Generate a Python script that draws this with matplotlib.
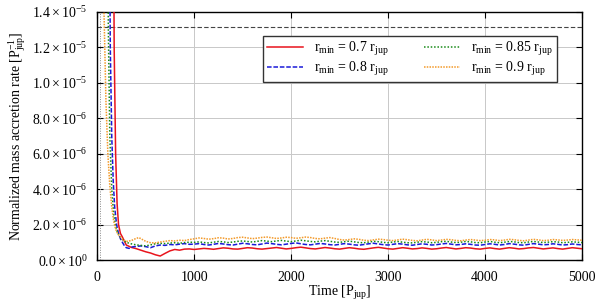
import matplotlib
matplotlib.use("Agg")
import matplotlib.pyplot as plt
from matplotlib.ticker import FixedLocator, FixedFormatter

plt.rcParams['font.family'] = ['Liberation Serif', 'DejaVu Serif']
plt.rcParams['mathtext.fontset'] = 'custom'
plt.rcParams['mathtext.rm'] = 'Liberation Serif'
plt.rcParams['mathtext.it'] = 'Liberation Serif:italic'

SCALE = 1e-6  # values below are in units of 1e-6 P_jup^-1

time_late = list(range(1000, 5001, 50))

# r_min = 0.7 r_jup
t_07_early = [0, 160, 175, 190, 205, 220, 240, 260, 300, 350, 400, 450, 500, 550, 600, 650, 700, 750, 800, 850, 900, 950]
v_07_early = [40, 30, 12, 6, 3.2, 2.0, 1.5, 1.3, 0.85, 0.72, 0.65, 0.56, 0.47, 0.40, 0.30, 0.23, 0.38, 0.52, 0.60, 0.56, 0.62, 0.63]
v_07_late = [0.60, 0.63, 0.66, 0.64, 0.61, 0.65, 0.69, 0.67, 0.63, 0.62,
             0.66, 0.70, 0.68, 0.64, 0.62, 0.65, 0.68, 0.71, 0.67, 0.63,
             0.66, 0.70, 0.73, 0.69, 0.65, 0.63, 0.67, 0.71, 0.68, 0.64,
             0.62, 0.66, 0.70, 0.67, 0.63, 0.61, 0.65, 0.69, 0.72, 0.68,
             0.64, 0.62, 0.66, 0.70, 0.67, 0.63, 0.65, 0.69, 0.66, 0.62,
             0.64, 0.68, 0.71, 0.67, 0.63, 0.66, 0.70, 0.68, 0.64, 0.62,
             0.66, 0.69, 0.65, 0.62, 0.66, 0.70, 0.67, 0.63, 0.65, 0.69,
             0.71, 0.67, 0.63, 0.66, 0.69, 0.65, 0.62, 0.66, 0.70, 0.67,
             0.64]

# r_min = 0.8 r_jup
t_08_early = [0, 120, 135, 150, 165, 180, 200, 220, 240, 260, 280, 300, 330, 360, 400, 450, 500, 550, 600, 650, 700, 750, 800, 850, 900, 950]
v_08_early = [40, 25, 12, 7, 4.5, 3.0, 2.0, 1.5, 1.2, 1.0, 0.82, 0.70, 0.66, 0.74, 0.77, 0.80, 0.76, 0.70, 0.80, 0.85, 0.83, 0.88, 0.86, 0.90, 0.93, 0.89]
v_08_late = [0.90, 0.93, 0.88, 0.85, 0.89, 0.94, 0.91, 0.87, 0.85, 0.90,
             0.95, 0.92, 0.88, 0.86, 0.91, 0.96, 0.93, 0.89, 0.86, 0.90,
             0.94, 0.97, 0.92, 0.88, 0.86, 0.90, 0.94, 0.91, 0.87, 0.85,
             0.89, 0.93, 0.90, 0.86, 0.84, 0.88, 0.92, 0.95, 0.91, 0.87,
             0.85, 0.89, 0.93, 0.90, 0.86, 0.84, 0.88, 0.92, 0.89, 0.85,
             0.87, 0.91, 0.94, 0.90, 0.86, 0.88, 0.92, 0.89, 0.85, 0.84,
             0.88, 0.92, 0.89, 0.85, 0.88, 0.93, 0.90, 0.86, 0.84, 0.89,
             0.93, 0.90, 0.86, 0.88, 0.92, 0.89, 0.85, 0.87, 0.91, 0.88,
             0.86]

# r_min = 0.85 r_jup
t_085_early = [0, 100, 115, 130, 150, 170, 190, 210, 230, 260, 300, 350, 400, 450, 500, 550, 600, 650, 700, 750, 800, 850, 900, 950]
v_085_early = [40, 25, 13, 7, 4.0, 2.6, 1.9, 1.55, 1.35, 1.15, 1.0, 0.92, 0.86, 0.83, 0.80, 0.86, 0.92, 0.95, 0.93, 0.96, 0.98, 0.95, 0.99, 1.01]
v_085_late = [1.00, 1.03, 0.99, 0.97, 1.01, 1.05, 1.03, 0.99, 1.02, 1.06,
              1.08, 1.05, 1.02, 1.06, 1.10, 1.07, 1.04, 1.08, 1.11, 1.07,
              1.04, 1.08, 1.12, 1.09, 1.05, 1.03, 1.07, 1.10, 1.06, 1.02,
              1.00, 1.04, 1.07, 1.03, 0.99, 0.98, 1.02, 1.06, 1.04, 1.00,
              0.98, 1.02, 1.05, 1.01, 0.98, 0.97, 1.01, 1.04, 1.02, 0.98,
              1.00, 1.04, 1.06, 1.02, 0.99, 1.01, 1.05, 1.03, 0.99, 0.98,
              1.02, 1.05, 1.01, 0.98, 1.01, 1.05, 1.03, 0.99, 0.98, 1.02,
              1.05, 1.02, 0.99, 1.01, 1.04, 1.02, 0.98, 1.00, 1.03, 1.01,
              0.99]

# r_min = 0.9 r_jup
t_09_early = [0, 50, 70, 90, 110, 130, 150, 170, 190, 210, 230, 260, 300, 350, 400, 430, 460, 500, 550, 600, 650, 700, 750, 800, 850, 900, 950]
v_09_early = [40, 25, 14, 9, 6, 4.2, 3.0, 2.2, 1.75, 1.5, 1.35, 1.18, 1.05, 1.10, 1.22, 1.27, 1.18, 1.06, 0.98, 0.97, 1.02, 1.06, 1.10, 1.08, 1.12, 1.10, 1.16]
v_09_late = [1.20, 1.25, 1.22, 1.18, 1.21, 1.26, 1.24, 1.19, 1.22, 1.27,
             1.29, 1.25, 1.21, 1.24, 1.28, 1.30, 1.26, 1.22, 1.25, 1.29,
             1.27, 1.23, 1.26, 1.30, 1.27, 1.22, 1.20, 1.24, 1.27, 1.22,
             1.16, 1.13, 1.16, 1.20, 1.17, 1.12, 1.10, 1.14, 1.18, 1.16,
             1.12, 1.10, 1.14, 1.18, 1.15, 1.11, 1.09, 1.13, 1.17, 1.14,
             1.10, 1.13, 1.17, 1.15, 1.11, 1.09, 1.13, 1.16, 1.13, 1.10,
             1.12, 1.16, 1.14, 1.10, 1.13, 1.17, 1.15, 1.11, 1.09, 1.13,
             1.17, 1.14, 1.10, 1.12, 1.16, 1.14, 1.11, 1.13, 1.16, 1.14,
             1.12]

reference_level = 13.15  # horizontal dashed line, in 1e-6
start_marker = 30        # vertical dotted line (time)

labels = [r'$\mathrm{r_{min}}$ = 0.7 $\mathrm{r_{jup}}$',
          r'$\mathrm{r_{min}}$ = 0.8 $\mathrm{r_{jup}}$',
          r'$\mathrm{r_{min}}$ = 0.85 $\mathrm{r_{jup}}$',
          r'$\mathrm{r_{min}}$ = 0.9 $\mathrm{r_{jup}}$']

x_ticks = [0, 1000, 2000, 3000, 4000, 5000]
y_ticks = [0, 2, 4, 6, 8, 10, 12, 14]
y_tick_labels = [r'$0.0\times10^{0}$', r'$2.0\times10^{-6}$', r'$4.0\times10^{-6}$',
                 r'$6.0\times10^{-6}$', r'$8.0\times10^{-6}$', r'$1.0\times10^{-5}$',
                 r'$1.2\times10^{-5}$', r'$1.4\times10^{-5}$']

fig = plt.figure(figsize=(6.0, 3.06), dpi=100)
ax = fig.add_axes([0.162, 0.150, 0.808, 0.811])

series = [
    (t_07_early, v_07_early, v_07_late, dict(color='#e8141c', ls='-', lw=1.1)),
    (t_08_early, v_08_early, v_08_late, dict(color='#1a1ad8', ls=(0, (3, 1.2)), lw=1.1)),
    (t_085_early, v_085_early, v_085_late, dict(color='#178a17', ls=(0, (1, 1.2)), lw=1.1)),
    (t_09_early, v_09_early, v_09_late, dict(color='#f39a2a', ls=(0, (1, 0.8)), lw=1.1)),
]

lines = []
for (te, ve, vl, st), lab in zip(series, labels):
    t = te + time_late
    v = [x * SCALE for x in ve + vl]
    ln, = ax.plot(t, v, label=lab, zorder=3, **st)
    lines.append(ln)

ax.axhline(reference_level * SCALE, color='#444444', ls=(0, (4, 2)), lw=0.8, zorder=2)
ax.axvline(start_marker, color='#888888', ls=(0, (1, 1.5)), lw=0.7, zorder=2)

ax.set_xlim(0, 5000)
ax.set_ylim(0, 14 * SCALE)
ax.xaxis.set_major_locator(FixedLocator(x_ticks))
ax.yaxis.set_major_locator(FixedLocator([y * SCALE for y in y_ticks]))
ax.yaxis.set_major_formatter(FixedFormatter(y_tick_labels))
ax.tick_params(direction='in', length=4, width=0.8, top=True, right=True, labelsize=10, colors='black')
ax.tick_params(axis='y', pad=7)
ax.tick_params(axis='x', pad=8)
ax.grid(True, color='#c8c8c8', lw=0.7, zorder=0)
for s in ax.spines.values():
    s.set_linewidth(1.0)

ax.set_xlabel(r'Time [$\mathrm{P_{jup}}$]', fontsize=10, labelpad=0)
ax.set_ylabel(r'Normalized mass accretion rate [$\mathrm{P_{jup}^{-1}}$]', fontsize=10, labelpad=3)

leg = ax.legend(handles=lines, ncol=2, loc='lower left', bbox_to_anchor=(0.342, 0.718, 0.606, 0.181),
                mode='expand', fontsize=10, frameon=True, fancybox=False, edgecolor='#333333',
                framealpha=1, handlelength=2.6, borderaxespad=0, columnspacing=1.0,
                labelspacing=0.1, borderpad=0.3)
leg.get_frame().set_linewidth(1.0)

fig.savefig('out.png', dpi=100)
